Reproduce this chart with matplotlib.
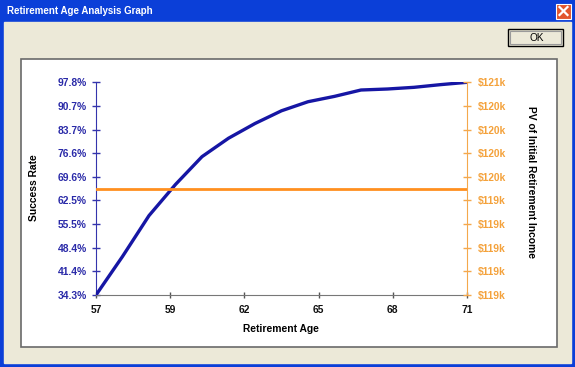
import numpy as np
import matplotlib
matplotlib.use('Agg')
import matplotlib.pyplot as plt
from matplotlib.patches import Rectangle

# ===== 数据 =====
ages = [57, 58, 59, 60, 61, 62, 63, 64, 65, 66, 67, 68, 69, 70, 71]
success_rate = [34.3, 45.8, 58.0, 67.3, 75.6, 81.1, 85.5, 89.3, 92.0, 93.6, 95.5, 95.8, 96.3, 97.1, 97.8]
pv_income = [120.09] * len(ages)  # 千美元, 常数

x_tick_labels = ['57', '59', '62', '65', '68', '71']
left_tick_labels = ['34.3%', '41.4%', '48.4%', '55.5%', '62.5%',
                    '69.6%', '76.6%', '83.7%', '90.7%', '97.8%']
right_tick_labels = ['$119k', '$119k', '$119k', '$119k', '$119k',
                     '$120k', '$120k', '$120k', '$120k', '$121k']
right_lim = (119.10, 121.08)

W, H = 575, 367
FONT = 'Liberation Sans'
BLUE = '#1616A4'
BLUE_AX = '#3434AC'
ORANGE = '#FF8F1F'
ORANGE_TXT = '#F4A23C'

fig = plt.figure(figsize=(W / 100, H / 100), dpi=100)

# ===== 窗口外框 =====
bg = fig.add_axes([0, 0, 1, 1])
bg.set_xlim(0, W)
bg.set_ylim(H, 0)
bg.axis('off')
bg.add_patch(Rectangle((0, 0), W, H, color='#0B3FD8'))
grad = np.linspace(0, 1, 22).reshape(-1, 1)
bg.imshow(grad, extent=(0, W, 22, 0), aspect='auto',
          cmap=matplotlib.colors.LinearSegmentedColormap.from_list(
              'tb', ['#3D8DF5', '#0A5CE8', '#0550DE', '#0A4BD6']))
bg.add_patch(Rectangle((4, 22), W - 8, H - 26, color='#ECE9D8'))
bg.text(7, 11.5, 'Retirement Age Analysis Graph', color='white', fontsize=7.0,
        fontweight='bold', family=FONT, va='center', ha='left')
# 关闭按钮
bg.add_patch(Rectangle((556, 3.5), 15, 15, facecolor='#E2562E', edgecolor='white', lw=0.8))
bg.plot([559.5, 567.5], [7, 15], color='white', lw=1.6)
bg.plot([559.5, 567.5], [15, 7], color='white', lw=1.6)
# OK 按钮
bg.add_patch(Rectangle((508, 29), 55, 17, facecolor='#ECE9D8', edgecolor='black', lw=1))
bg.add_patch(Rectangle((510, 31), 51, 13, facecolor='none', edgecolor='#9A9A9A', lw=0.8))
bg.text(536.5, 37.8, 'OK', fontsize=7.2, family=FONT, va='center', ha='center')
# 图表面板
bg.add_patch(Rectangle((21, 59), 536, 288, facecolor='white', edgecolor='#6A6A6A', lw=1.2))

# ===== 主图 =====
ax = fig.add_axes([96 / W, 1 - 295 / H, (467 - 96) / W, (295 - 82.3) / H])
ax.patch.set_alpha(0)
ax.plot(ages, success_rate, color=BLUE, lw=2.4, zorder=3)
ax.set_xlim(57, 71)
ax.set_ylim(34.3, 97.8)
ax.set_xticks(np.linspace(57, 71, len(x_tick_labels)))
ax.set_xticklabels(x_tick_labels)
ax.set_yticks(np.linspace(34.3, 97.8, len(left_tick_labels)))
ax.set_yticklabels(left_tick_labels)
for s in ['top', 'right']:
    ax.spines[s].set_visible(False)
ax.spines['left'].set_color(BLUE_AX)
ax.spines['bottom'].set_color('#777777')
ax.tick_params(axis='y', direction='inout', length=6, width=1, color=BLUE_AX,
               labelcolor='#2A2AA8', pad=3.5)
ax.tick_params(axis='x', direction='inout', length=5, width=1, color='#555555',
               labelcolor='#111111', pad=4.5)
for lab in ax.get_xticklabels() + ax.get_yticklabels():
    lab.set_fontfamily(FONT)
    lab.set_fontweight('bold')
    lab.set_fontsize(7.4)

ax2 = ax.twinx()
ax2.plot(ages, pv_income, color=ORANGE, lw=2, zorder=2)
ax2.set_ylim(*right_lim)
ax2.set_yticks(np.linspace(right_lim[0], right_lim[1], len(right_tick_labels)))
ax2.set_yticklabels(right_tick_labels)
for s in ['top', 'left', 'bottom']:
    ax2.spines[s].set_visible(False)
ax2.spines['right'].set_color('#F4A84C')
ax2.tick_params(axis='y', direction='inout', length=6, width=1, color='#F4A84C',
                labelcolor=ORANGE_TXT, pad=5)
for lab in ax2.get_yticklabels():
    lab.set_fontfamily(FONT)
    lab.set_fontweight('bold')
    lab.set_fontsize(7.4)

# 轴标题
fig.text(281 / W, 1 - 329 / H, 'Retirement Age', fontsize=7.4, fontweight='bold',
         family=FONT, ha='center', va='center')
fig.text(34 / W, 1 - 188 / H, 'Success Rate', fontsize=7.4, fontweight='bold',
         family=FONT, ha='center', va='center', rotation=90)
fig.text(531 / W, 1 - 182 / H, 'PV of Initial Retirement Income', fontsize=7.4,
         fontweight='bold', family=FONT, ha='center', va='center', rotation=270)

plt.savefig('out.png', dpi=100)
